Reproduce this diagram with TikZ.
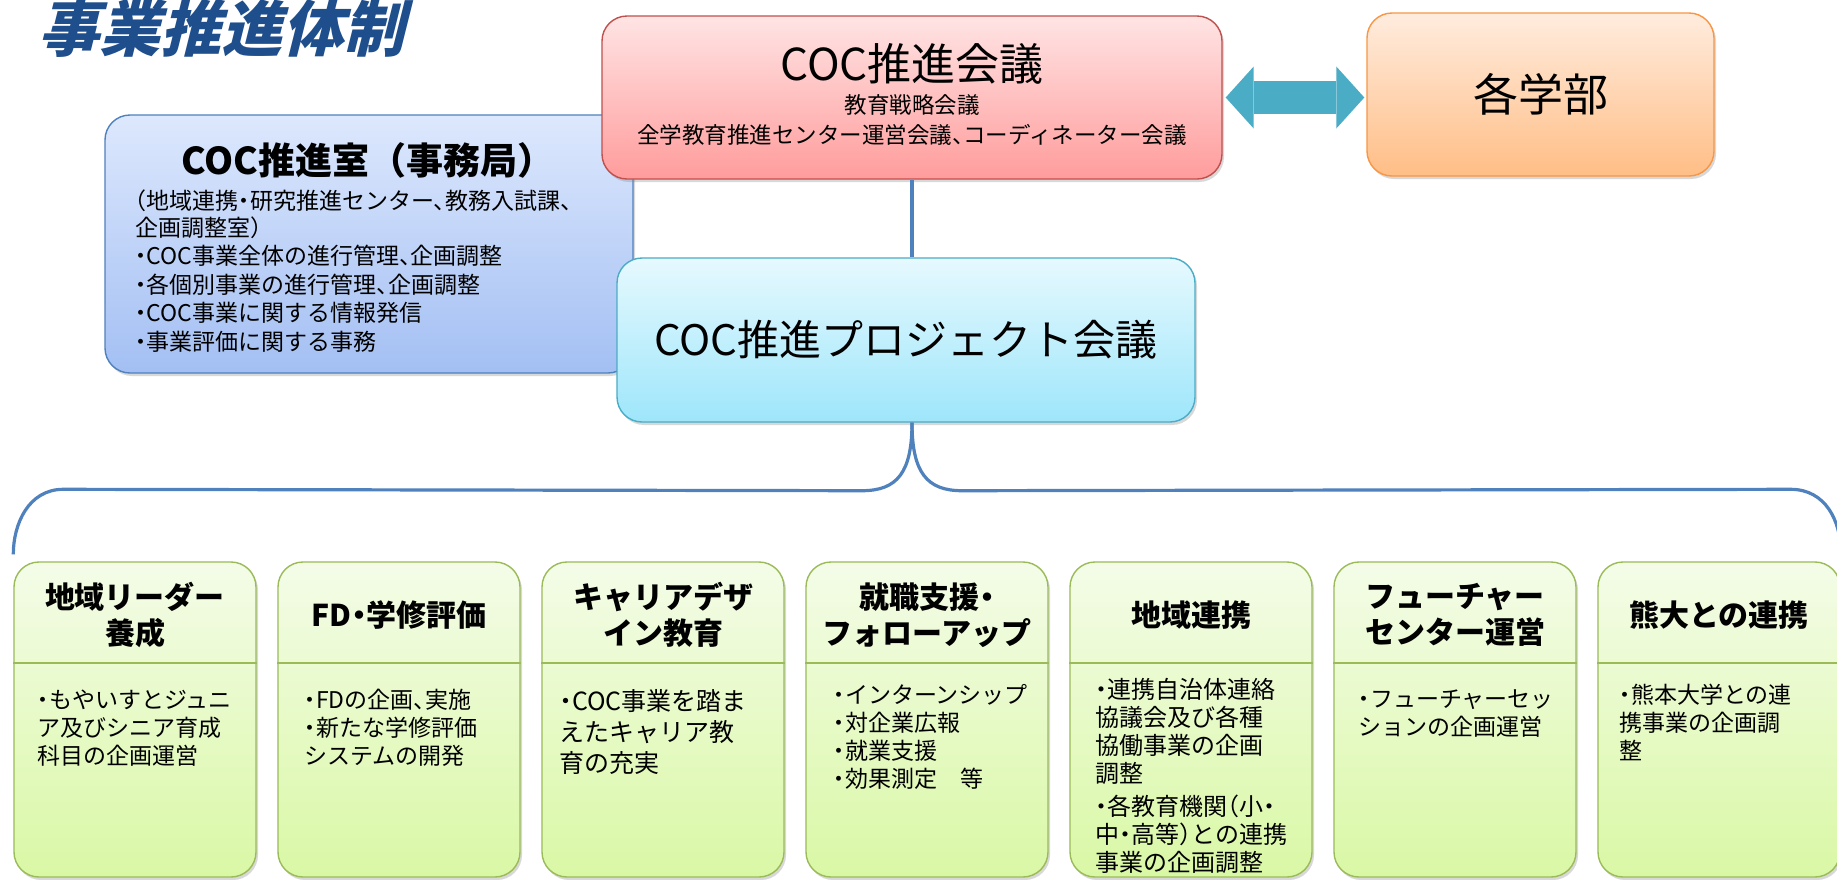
\documentclass[tikz,border=0pt]{standalone}
\usepackage{fontspec}
\setmainfont{Noto Sans CJK JP}[RawFeature=+halt]
\newfontfamily\widefont{Noto Sans CJK JP}
\newfontfamily\titlefont{Noto Sans CJK JP}[FakeSlant=0.25]
\usetikzlibrary{shadows,arrows.meta,calc}

\definecolor{titleblue}{HTML}{1F4E8C}
\definecolor{redline}{HTML}{C0504D}
\definecolor{redtop}{HTML}{FFE4E4}
\definecolor{redbot}{HTML}{FF9C9C}
\definecolor{orangeline}{HTML}{F79646}
\definecolor{orangetop}{HTML}{FFECDE}
\definecolor{orangebot}{HTML}{FFBE86}
\definecolor{blueline}{HTML}{4F81BD}
\definecolor{bluetop}{HTML}{DDE8FD}
\definecolor{bluebot}{HTML}{A3BFF3}
\definecolor{cyanline}{HTML}{4BACC6}
\definecolor{cyantop}{HTML}{E6F9FE}
\definecolor{cyanbot}{HTML}{9EE6FB}
\definecolor{greenline}{HTML}{9BBB59}
\definecolor{greentop}{HTML}{F4FCE8}
\definecolor{greenbot}{HTML}{D9F8A5}
\definecolor{linkblue}{HTML}{4F81BD}
\definecolor{arrowcyan}{HTML}{4BACC6}

\begin{document}
\begin{tikzpicture}[x=1pt,y=-1pt,
    panel/.style={rectangle, rounded corners=25pt, line width=1.4pt, drop shadow={shadow xshift=2pt,shadow yshift=-3pt,opacity=0.3}},
    councilbox/.style={panel, draw=redline, top color=redtop, bottom color=redbot, minimum width=620pt, minimum height=163pt},
    facultybox/.style={panel, draw=orangeline, top color=orangetop, bottom color=orangebot, minimum width=347pt, minimum height=163pt},
    officebox/.style={panel, draw=blueline, top color=bluetop, bottom color=bluebot, minimum width=528pt, minimum height=258pt},
    projectbox/.style={panel, draw=cyanline, top color=cyantop, bottom color=cyanbot, minimum width=578pt, minimum height=164pt},
    unitbox/.style={panel, draw=greenline, top color=greentop, bottom color=greenbot, minimum width=242pt, minimum height=315pt},
    unithead/.style={inner sep=0pt, align=center, font={\bfseries\fontsize{30}{36}\selectfont}},
    unittext/.style={inner sep=0pt, anchor=north west, align=left, font={\fontsize{23}{28}\selectfont}},
    unitline/.style={draw=greenline, line width=2pt},
    link/.style={draw=linkblue, line width=3.2pt},
    biarrow/.style={draw=arrowcyan, line width=33pt, {Triangle[length=28pt,width=62pt,line width=0pt]}-{Triangle[length=28pt,width=62pt,line width=0pt]}, shorten <=3pt, shorten >=2pt}]
  \fill[white] (0,0) rectangle (1837,879);
  \useasboundingbox (0,0) rectangle (1837,879);

  \node[anchor=base west, inner sep=0pt, text=titleblue, font={\titlefont\bfseries\fontsize{61}{61}\selectfont}] (heading) at (38,51) {事業推進体制};

  % office, council, faculties, project meeting
  \node[officebox] (office) at (369,244) {};
  \node[inner sep=0pt, font={\widefont\bfseries\fontsize{37}{40}\selectfont}] (officetitle) at (368,160) {COC推進室（事務局）};
  \node[inner sep=0pt, anchor=north west, align=left, font={\fontsize{23}{26.5}\selectfont}] (officetext) at (135,190) {（地域連携・研究推進センター、教務入試課、\\企画調整室）\\[2pt]・COC事業全体の進行管理、企画調整\\[2pt]・各個別事業の進行管理、企画調整\\[2pt]・COC事業に関する情報発信\\[2pt]・事業評価に関する事務};

  \node[councilbox] (council) at (912,97.5) {};
  \node[inner sep=0pt, font={\fontsize{44}{50}\selectfont}] (counciltitle) at (912,64) {COC推進会議};
  \node[inner sep=0pt, align=center, font={\fontsize{22.5}{30}\selectfont}] (councilsub) at (912,120) {教育戦略会議\\全学教育推進センター運営会議、コーディネーター会議};

  \node[facultybox, font={\fontsize{45}{50}\selectfont}] (faculty) at (1540.5,94.5) {各学部};
  \draw[biarrow] (council.east) -- (council.east -| faculty.west);

  \node[projectbox, font={\fontsize{42}{48}\selectfont}] (project) at (906,340) {COC推進プロジェクト会議};
  \draw[link] (council.south) -- (council.south |- project.north);

  % working groups
  \node[unitbox] (g1) at (135,719.5) {};
  \node[unitbox] (g2) at (399,719.5) {};
  \node[unitbox] (g3) at (663,719.5) {};
  \node[unitbox] (g4) at (927,719.5) {};
  \node[unitbox] (g5) at (1191,719.5) {};
  \node[unitbox] (g6) at (1455,719.5) {};
  \node[unitbox] (g7) at (1719,719.5) {};

  \node[unithead] (h1) at ([yshift=-54pt]g1.north) {地域リーダー\\養成};
  \node[unithead] (h2) at ([yshift=-54pt]g2.north) {FD・学修評価};
  \node[unithead] (h3) at ([yshift=-54pt]g3.north) {キャリアデザ\\イン教育};
  \node[unithead] (h4) at ([yshift=-54pt]g4.north) {就職支援・\\フォローアップ};
  \node[unithead] (h5) at ([yshift=-54pt]g5.north) {地域連携};
  \node[unithead] (h6) at ([yshift=-54pt]g6.north) {フューチャー\\センター運営};
  \node[unithead] (h7) at ([yshift=-54pt]g7.north) {熊大との連携};

  \draw[unitline] ([yshift=-102pt]g1.north west) -- ([yshift=-102pt]g1.north east);
  \draw[unitline] ([yshift=-102pt]g2.north west) -- ([yshift=-102pt]g2.north east);
  \draw[unitline] ([yshift=-102pt]g3.north west) -- ([yshift=-102pt]g3.north east);
  \draw[unitline] ([yshift=-102pt]g4.north west) -- ([yshift=-102pt]g4.north east);
  \draw[unitline] ([yshift=-102pt]g5.north west) -- ([yshift=-102pt]g5.north east);
  \draw[unitline] ([yshift=-102pt]g6.north west) -- ([yshift=-102pt]g6.north east);
  \draw[unitline] ([yshift=-102pt]g7.north west) -- ([yshift=-102pt]g7.north east);

  \node[unittext] (t1) at ([xshift=24pt,yshift=-128pt]g1.north west) {・もやいすとジュニ\\ア及びシニア育成\\科目の企画運営};
  \node[unittext] (t2) at ([xshift=27pt,yshift=-128pt]g2.north west) {・FDの企画、実施\\・新たな学修評価\\システムの開発};
  \node[unittext, font={\fontsize{25}{31}\selectfont}] (t3) at ([xshift=18pt,yshift=-128pt]g3.north west) {・COC事業を踏ま\\えたキャリア教\\育の充実};
  \node[unittext] (t4) at ([xshift=28pt,yshift=-123pt]g4.north west) {・インターンシップ\\・対企業広報\\・就業支援\\・効果測定　等};
  \node[unittext, font={\fontsize{24}{28}\selectfont}] (t5) at ([xshift=26pt,yshift=-117pt]g5.north west) {・連携自治体連絡\\協議会及び各種\\協働事業の企画\\調整\\[5pt]・各教育機関（小・\\中・高等）との連携\\事業の企画調整};
  \node[unittext] (t6) at ([xshift=25pt,yshift=-128pt]g6.north west) {・フューチャーセッ\\ションの企画運営};
  \node[unittext] (t7) at ([xshift=22pt,yshift=-123pt]g7.north west) {・熊本大学との連\\携事業の企画調\\整};

  % brace from the project meeting to the groups
  \coordinate (cusp) at (council.south |- project.south);
  \coordinate (leftend) at ([yshift=7pt]g1.north west);
  \coordinate (rightend) at ([yshift=10pt]g7.north east);
  \draw[link] (cusp) .. controls +(0,50) and +(35,0) .. ($(cusp)+(-50,68)$) -- ($(leftend)+(50,-65)$) .. controls +(-35,0) and +(0,-30) .. (leftend);
  \draw[link] (cusp) .. controls +(0,50) and +(-35,0) .. ($(cusp)+(50,68)$) -- ($(rightend)+(-50,-62)$) .. controls +(35,0) and +(0,-30) .. (rightend);
\end{tikzpicture}
\end{document}
